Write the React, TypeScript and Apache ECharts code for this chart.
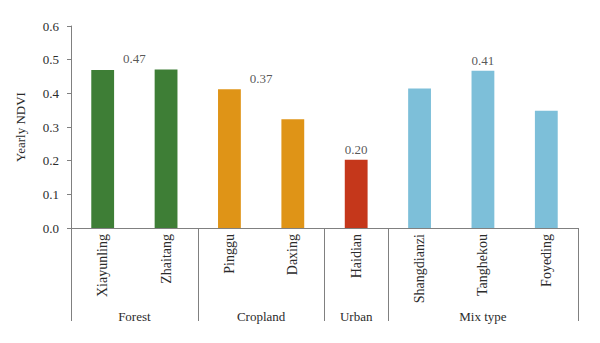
import React, { useEffect, useRef } from "react";
import * as echarts from "echarts";

const categories = ["Xiayunling", "Zhaitang", "Pinggu", "Daxing", "Haidian", "Shangdianzi", "Tanghekou", "Foyeding"];
const values = [0.469, 0.471, 0.412, 0.323, 0.203, 0.414, 0.467, 0.348];
const groupNames = ["Forest", "Cropland", "Urban", "Mix type"];
const groupSizes = [2, 2, 1, 3];
const groupMeanLabels = ["0.47", "0.37", "0.20", "0.41"];
const groupColors = ["#3e7e36", "#df9417", "#c5371b", "#7dbfd9"];

const FONT = "Liberation Serif";
const TEXT = "#2b2b2b";
const AXIS = "#808080";

export default function App() {
  const ref = useRef<HTMLDivElement>(null);
  useEffect(() => {
    if (!ref.current) return;
    const chart = echarts.init(ref.current, undefined, { renderer: "svg" });

    const starts: number[] = [0];
    groupSizes.forEach((s, i) => starts.push(starts[i] + s));
    const centers = groupSizes.map((s, i) => starts[i] + s / 2);
    const barColors: string[] = [];
    const groupMax: number[] = [];
    groupSizes.forEach((s, g) => {
      let m = -Infinity;
      for (let k = 0; k < s; k++) {
        barColors.push(groupColors[g]);
        m = Math.max(m, values[starts[g] + k]);
      }
      groupMax.push(m);
    });

    chart.setOption({
      animation: false,
      textStyle: { fontFamily: FONT },
      grid: { left: 71, right: 22, top: 26, bottom: 115 },
      xAxis: [
        {
          type: "category",
          data: categories,
          axisLine: { lineStyle: { color: AXIS } },
          axisTick: { interval: 0, length: 5, lineStyle: { color: AXIS } },
          axisLabel: { interval: 0, rotate: 90, margin: 6, color: TEXT, fontSize: 14, fontFamily: FONT },
        },
        {
          type: "value",
          min: 0,
          max: starts[starts.length - 1],
          position: "bottom",
          splitLine: { show: false },
          axisLine: { show: false },
          axisTick: { show: true, customValues: starts, length: 93, lineStyle: { color: AXIS } },
          axisLabel: {
            customValues: centers,
            margin: 82,
            color: TEXT,
            fontSize: 13,
            fontFamily: FONT,
            formatter: (v: number) => {
              const i = centers.findIndex((c) => Math.abs(c - v) < 1e-6);
              return i >= 0 ? groupNames[i] : "";
            },
          },
        },
      ],
      yAxis: {
        type: "value",
        min: 0,
        max: 0.6,
        interval: 0.1,
        name: "Yearly NDVI",
        nameLocation: "middle",
        nameGap: 44,
        nameTextStyle: { color: TEXT, fontSize: 13, fontFamily: FONT },
        splitLine: { show: false },
        axisLine: { show: true, lineStyle: { color: AXIS } },
        axisTick: { show: true, length: 4, lineStyle: { color: AXIS } },
        axisLabel: {
          margin: 12,
          color: TEXT,
          fontSize: 13,
          fontFamily: FONT,
          formatter: (v: number) => v.toFixed(1),
        },
      },
      series: [
        {
          type: "bar",
          xAxisIndex: 0,
          barWidth: "36%",
          data: values.map((v, i) => ({ value: v, itemStyle: { color: barColors[i] } })),
        },
        {
          type: "scatter",
          xAxisIndex: 1,
          symbolSize: 0,
          silent: true,
          data: centers.map((c, i) => [c, groupMax[i]]),
          label: {
            show: true,
            position: "top",
            distance: 4,
            color: TEXT,
            fontSize: 13,
            fontFamily: FONT,
            formatter: (p: any) => groupMeanLabels[p.dataIndex],
          },
        },
      ],
    });
    return () => chart.dispose();
  }, []);
  return <div ref={ref} style={{ width: 600, height: 343, position: "absolute", left: 0, top: 0 }} />;
}
